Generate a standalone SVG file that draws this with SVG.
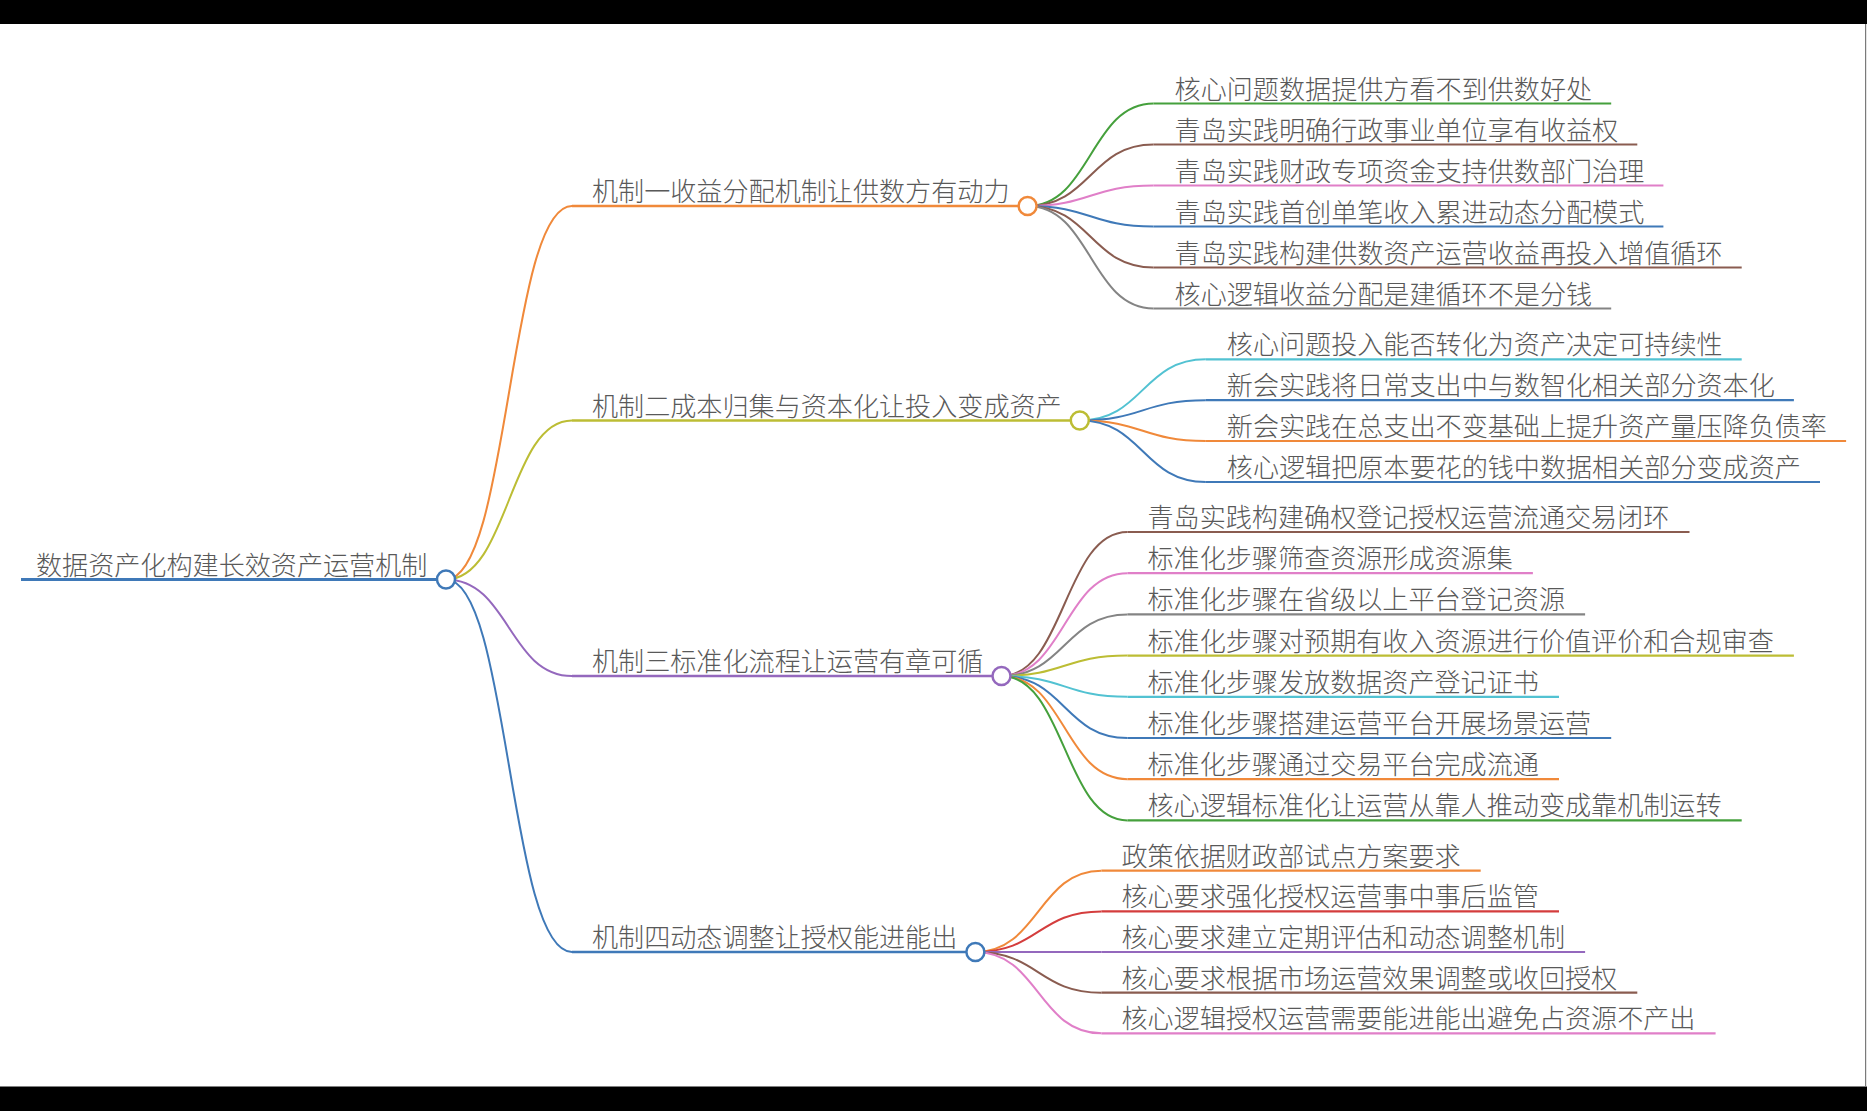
<svg xmlns="http://www.w3.org/2000/svg" width="1867" height="1111" viewBox="0 0 1867 1111">
<style>
text{font-family:"Noto Sans CJK SC","Noto Sans",sans-serif;font-size:26.1px;fill:#595959;font-weight:300}
.lk{fill:none;stroke-width:2}
.ln{fill:none;stroke-width:2.2}
.l1{stroke-width:2.6}
.c{fill:#fff;stroke-width:2.5}
.blue{stroke:#3f79b8}.orange{stroke:#f0893a}.green{stroke:#45a03c}.red{stroke:#d43d3d}.purple{stroke:#9468bd}
.brown{stroke:#8a5c50}.pink{stroke:#e07fc8}.gray{stroke:#848484}.olive{stroke:#bcbd34}.cyan{stroke:#52c2d2}
</style>
<rect x="0" y="0" width="1867" height="1111" fill="#fff"/>
<rect x="0" y="0" width="1867" height="24" fill="#000"/>
<rect x="0" y="1086.5" width="1867" height="24.5" fill="#000"/>
<line x1="1865.6" y1="24" x2="1865.6" y2="1087" stroke="#7a7a7a" stroke-width="1.2"/>

<g id="connectors">
<path class="lk orange" d="M446 579.5C509 579.5 509 206 572 206"/>
<path class="lk olive" d="M446 579.5C509 579.5 509 420.5 572 420.5"/>
<path class="lk purple" d="M446 579.5C509 579.5 509 676 572 676"/>
<path class="lk blue" d="M446 579.5C509 579.5 509 952 572 952"/>

<path class="lk green" d="M1027.6 206C1090.6 206 1090.6 103.5 1153.6 103.5"/>
<path class="lk brown" d="M1027.6 206C1090.6 206 1090.6 144.5 1153.6 144.5"/>
<path class="lk pink" d="M1027.6 206C1090.6 206 1090.6 185.5 1153.6 185.5"/>
<path class="lk blue" d="M1027.6 206C1090.6 206 1090.6 226.5 1153.6 226.5"/>
<path class="lk brown" d="M1027.6 206C1090.6 206 1090.6 267.5 1153.6 267.5"/>
<path class="lk gray" d="M1027.6 206C1090.6 206 1090.6 308.5 1153.6 308.5"/>

<path class="lk cyan" d="M1079.8 420.5C1142.8 420.5 1142.8 359.3 1205.8 359.3"/>
<path class="lk blue" d="M1079.8 420.5C1142.8 420.5 1142.8 400.2 1205.8 400.2"/>
<path class="lk orange" d="M1079.8 420.5C1142.8 420.5 1142.8 441 1205.8 441"/>
<path class="lk blue" d="M1079.8 420.5C1142.8 420.5 1142.8 482 1205.8 482"/>

<path class="lk brown" d="M1001.5 676C1064.5 676 1064.5 532 1127.5 532"/>
<path class="lk pink" d="M1001.5 676C1064.5 676 1064.5 573.2 1127.5 573.2"/>
<path class="lk gray" d="M1001.5 676C1064.5 676 1064.5 614.4 1127.5 614.4"/>
<path class="lk olive" d="M1001.5 676C1064.5 676 1064.5 655.6 1127.5 655.6"/>
<path class="lk cyan" d="M1001.5 676C1064.5 676 1064.5 696.8 1127.5 696.8"/>
<path class="lk blue" d="M1001.5 676C1064.5 676 1064.5 738 1127.5 738"/>
<path class="lk orange" d="M1001.5 676C1064.5 676 1064.5 779.2 1127.5 779.2"/>
<path class="lk green" d="M1001.5 676C1064.5 676 1064.5 820.4 1127.5 820.4"/>

<path class="lk orange" d="M975.4 952C1038.4 952 1038.4 870.7 1101.4 870.7"/>
<path class="lk red" d="M975.4 952C1038.4 952 1038.4 911.4 1101.4 911.4"/>
<path class="lk purple" d="M975.4 952C1038.4 952 1038.4 952 1101.4 952"/>
<path class="lk brown" d="M975.4 952C1038.4 952 1038.4 992.7 1101.4 992.7"/>
<path class="lk pink" d="M975.4 952C1038.4 952 1038.4 1033.3 1101.4 1033.3"/>
</g>

<g id="root">
<line class="ln blue" style="stroke-width:3" x1="21" y1="579.5" x2="446" y2="579.5"/>
<text x="36" y="574.5">数据资产化构建长效资产运营机制</text>
</g>

<g id="m1">
<line class="ln l1 orange" x1="572" y1="206" x2="1027.6" y2="206"/>
<text x="592" y="201">机制一收益分配机制让供数方有动力</text>
</g>
<g id="m2">
<line class="ln l1 olive" x1="572" y1="420.5" x2="1079.8" y2="420.5"/>
<text x="592" y="415.5">机制二成本归集与资本化让投入变成资产</text>
</g>
<g id="m3">
<line class="ln l1 purple" x1="572" y1="676" x2="1001.5" y2="676"/>
<text x="592" y="671">机制三标准化流程让运营有章可循</text>
</g>
<g id="m4">
<line class="ln l1 blue" x1="572" y1="952" x2="975.4" y2="952"/>
<text x="592" y="947">机制四动态调整让授权能进能出</text>
</g>

<g id="m1-1"><line class="ln green" x1="1153.6" y1="103.5" x2="1611.2" y2="103.5"/><text x="1174.6" y="98.5">核心问题数据提供方看不到供数好处</text></g>
<g id="m1-2"><line class="ln brown" x1="1153.6" y1="144.5" x2="1637.3" y2="144.5"/><text x="1174.6" y="139.5">青岛实践明确行政事业单位享有收益权</text></g>
<g id="m1-3"><line class="ln pink" x1="1153.6" y1="185.5" x2="1663.4" y2="185.5"/><text x="1174.6" y="180.5">青岛实践财政专项资金支持供数部门治理</text></g>
<g id="m1-4"><line class="ln blue" x1="1153.6" y1="226.5" x2="1663.4" y2="226.5"/><text x="1174.6" y="221.5">青岛实践首创单笔收入累进动态分配模式</text></g>
<g id="m1-5"><line class="ln brown" x1="1153.6" y1="267.5" x2="1741.7" y2="267.5"/><text x="1174.6" y="262.5">青岛实践构建供数资产运营收益再投入增值循环</text></g>
<g id="m1-6"><line class="ln gray" x1="1153.6" y1="308.5" x2="1611.2" y2="308.5"/><text x="1174.6" y="303.5">核心逻辑收益分配是建循环不是分钱</text></g>

<g id="m2-1"><line class="ln cyan" x1="1205.8" y1="359.3" x2="1741.7" y2="359.3"/><text x="1226.8" y="354.3">核心问题投入能否转化为资产决定可持续性</text></g>
<g id="m2-2"><line class="ln blue" x1="1205.8" y1="400.2" x2="1793.9" y2="400.2"/><text x="1226.8" y="395.2">新会实践将日常支出中与数智化相关部分资本化</text></g>
<g id="m2-3"><line class="ln orange" x1="1205.8" y1="441" x2="1846.1" y2="441"/><text x="1226.8" y="436">新会实践在总支出不变基础上提升资产量压降负债率</text></g>
<g id="m2-4"><line class="ln blue" x1="1205.8" y1="482" x2="1820" y2="482"/><text x="1226.8" y="477">核心逻辑把原本要花的钱中数据相关部分变成资产</text></g>

<g id="m3-1"><line class="ln brown" x1="1127.5" y1="532" x2="1689.5" y2="532"/><text x="1147.5" y="527">青岛实践构建确权登记授权运营流通交易闭环</text></g>
<g id="m3-2"><line class="ln pink" x1="1127.5" y1="573.2" x2="1532.9" y2="573.2"/><text x="1147.5" y="568.2">标准化步骤筛查资源形成资源集</text></g>
<g id="m3-3"><line class="ln gray" x1="1127.5" y1="614.4" x2="1585.1" y2="614.4"/><text x="1147.5" y="609.4">标准化步骤在省级以上平台登记资源</text></g>
<g id="m3-4"><line class="ln olive" x1="1127.5" y1="655.6" x2="1793.9" y2="655.6"/><text x="1147.5" y="650.6">标准化步骤对预期有收入资源进行价值评价和合规审查</text></g>
<g id="m3-5"><line class="ln cyan" x1="1127.5" y1="696.8" x2="1559" y2="696.8"/><text x="1147.5" y="691.8">标准化步骤发放数据资产登记证书</text></g>
<g id="m3-6"><line class="ln blue" x1="1127.5" y1="738" x2="1611.2" y2="738"/><text x="1147.5" y="733">标准化步骤搭建运营平台开展场景运营</text></g>
<g id="m3-7"><line class="ln orange" x1="1127.5" y1="779.2" x2="1559" y2="779.2"/><text x="1147.5" y="774.2">标准化步骤通过交易平台完成流通</text></g>
<g id="m3-8"><line class="ln green" x1="1127.5" y1="820.4" x2="1741.7" y2="820.4"/><text x="1147.5" y="815.4">核心逻辑标准化让运营从靠人推动变成靠机制运转</text></g>

<g id="m4-1"><line class="ln orange" x1="1101.4" y1="870.7" x2="1480.7" y2="870.7"/><text x="1121.4" y="865.7">政策依据财政部试点方案要求</text></g>
<g id="m4-2"><line class="ln red" x1="1101.4" y1="911.4" x2="1559" y2="911.4"/><text x="1121.4" y="906.4">核心要求强化授权运营事中事后监管</text></g>
<g id="m4-3"><line class="ln purple" x1="1101.4" y1="952" x2="1585.1" y2="952"/><text x="1121.4" y="947">核心要求建立定期评估和动态调整机制</text></g>
<g id="m4-4"><line class="ln brown" x1="1101.4" y1="992.7" x2="1637.3" y2="992.7"/><text x="1121.4" y="987.7">核心要求根据市场运营效果调整或收回授权</text></g>
<g id="m4-5"><line class="ln pink" x1="1101.4" y1="1033.3" x2="1715.6" y2="1033.3"/><text x="1121.4" y="1028.3">核心逻辑授权运营需要能进能出避免占资源不产出</text></g>

<g id="circles">
<circle class="c blue" cx="446" cy="579.5" r="9"/>
<circle class="c orange" cx="1027.6" cy="206" r="9"/>
<circle class="c olive" cx="1079.8" cy="420.5" r="9"/>
<circle class="c purple" cx="1001.5" cy="676" r="9"/>
<circle class="c blue" cx="975.4" cy="952" r="9"/>
</g>
</svg>
